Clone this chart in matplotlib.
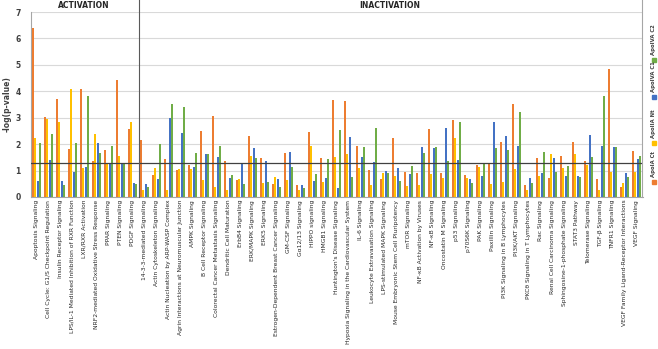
import matplotlib
matplotlib.use("Agg")
import matplotlib.pyplot as plt
from matplotlib.patches import Rectangle
from matplotlib.lines import Line2D
import numpy as np

categories = [
    "Apoptosis Signaling", "Cell Cycle: G1/S Checkpoint Regulation", "Insulin Receptor Signaling",
    "LPS/IL-1 Mediated Inhibition of RXR Function", "LXR/RXR Activation",
    "NRF2-mediated Oxidative Stress Response", "PPAR Signaling", "PTEN Signaling", "PDGF Signaling",
    "14-3-3-mediated Signaling", "Actin Cytoskeleton Signaling", "Actin Nucleation by ARP-WASP Complex",
    "Agrin Interactions at Neuromuscular Junction", "AMPK Signaling", "B Cell Receptor Signaling",
    "Colorectal Cancer Metastasis Signaling", "Dendritic Cell Maturation", "ErbB4 Signaling",
    "ERK/MAPK Signaling", "ERK5 Signaling", "Estrogen-Dependent Breast Cancer Signaling",
    "GM-CSF Signaling", "Gα12/13 Signaling", "HIPPO signaling", "HMGB1 Signaling",
    "Huntington's Disease Signaling", "Hypoxia Signaling in the Cardiovascular System",
    "IL-6 Signaling", "Leukocyte Extravasation Signaling", "LPS-stimulated MAPK Signaling",
    "Mouse Embryonic Stem Cell Pluripotency", "mTOR Signaling", "NF-κB Activation by Viruses",
    "NF-κB Signaling", "Oncostatin M Signaling", "p53 Signaling", "p70S6K Signaling", "PAK Signaling",
    "Paxillin Signaling", "PI3K Signaling in B Lymphocytes", "PI3K/AKT Signaling",
    "PKCθ Signaling in T Lymphocytes", "Rac Signaling", "Renal Cell Carcinoma Signaling",
    "Sphingosine-1-phosphate Signaling", "STAT3 Pathway", "Telomerase Signaling", "TGF-β Signaling",
    "TNFR1 Signaling", "VEGF Family Ligand-Receptor Interactions", "VEGF Signaling",
]

series_names = ["ApoIA Ct", "ApoIIA Nt", "ApoIVA C1", "ApoIVA C2"]

apoIA_ct = [6.39, 3.01, 3.72, 1.81, 4.08, 1.37, 1.78, 4.41, 2.59,
            2.14, 0.83, 1.44, 1.01, 1.20, 2.51, 3.05, 1.35, 0.63, 2.30, 1.49, 0.51, 1.66, 0.46, 2.47,
            1.47, 3.67, 3.65, 1.92, 1.01, 0.67, 2.23, 0.94, 0.92, 2.58, 0.92, 2.91, 0.84,
            1.22, 1.30, 2.10, 3.51, 0.44, 1.46, 0.71, 1.56, 2.08, 1.35, 0.67, 4.85, 0.37, 1.73]
apoIIA_nt = [2.24, 2.95, 2.82, 4.08, 1.09, 2.38, 1.27, 1.56, 2.84,
             0.28, 1.09, 0.28, 1.05, 1.06, 0.63, 0.38, 0.28, 0.67, 1.54, 0.54, 0.75, 0.66, 0.27, 1.92,
             0.58, 1.52, 1.62, 1.09, 0.44, 0.92, 0.78, 0.42, 0.46, 0.86, 0.73, 2.23, 0.71,
             1.13, 0.49, 0.57, 1.06, 0.25, 0.78, 1.63, 1.09, 1.62, 1.20, 0.28, 0.95, 0.54, 0.95]
apoIVA_c1 = [0.59, 1.39, 0.61, 0.94, 1.14, 2.03, 1.29, 1.24, 0.54,
             0.49, 0.68, 3.00, 2.44, 1.15, 1.62, 1.53, 0.71, 1.24, 1.85, 1.37, 0.67, 1.72, 0.46, 0.61,
             0.73, 0.35, 2.28, 1.53, 1.33, 0.99, 1.08, 0.86, 1.90, 1.84, 2.61, 1.39, 0.68,
             0.78, 2.85, 2.30, 1.94, 0.71, 0.89, 1.47, 0.78, 0.78, 2.35, 1.92, 1.89, 0.89, 1.43]
apoIVA_c2 = [2.05, 2.38, 0.44, 2.06, 3.81, 1.68, 1.92, 1.29, 0.49,
             0.37, 2.00, 3.52, 3.41, 1.66, 1.63, 1.94, 0.84, 0.48, 1.49, 0.56, 0.38, 1.13, 0.33, 0.87,
             1.42, 2.54, 0.76, 1.90, 2.62, 0.89, 0.61, 1.18, 1.65, 1.91, 1.35, 2.85, 0.52,
             1.29, 1.87, 1.76, 3.22, 0.52, 1.70, 0.94, 1.16, 0.76, 1.51, 3.82, 1.89, 0.76, 1.56]

colors = ["#ED7D31", "#FFC000", "#4472C4", "#70AD47"]
n_activation = 9
threshold = 1.3

W, H = 658, 349
fig = plt.figure(figsize=(W / 100, H / 100), dpi=100)
ax = fig.add_axes([30.5 / W, 1 - 197 / H, 612 / W, 185 / H])

x = np.arange(len(categories))
offsets = [-0.3, -0.1, 0.1, 0.3]
for vals, off, c in zip([apoIA_ct, apoIIA_nt, apoIVA_c1, apoIVA_c2], offsets, colors):
    ax.bar(x + off, vals, width=0.17, color=c, zorder=3, linewidth=0)

ax.set_xlim(-0.5, len(categories) - 0.5)
ax.set_ylim(0, 7)
ax.set_yticks(range(0, 8))
ax.yaxis.grid(True, color="#D9D9D9", linewidth=0.8, zorder=0)
ax.set_axisbelow(True)
ax.tick_params(axis="y", length=0, labelsize=5.5, labelcolor="#404040", pad=7)
ax.tick_params(axis="x", length=0, labelsize=4.35, labelcolor="#262626", pad=2)
for lab in ax.get_yticklabels():
    lab.set_fontweight("bold")
ax.set_xticks(x)
ax.set_xticklabels(categories, rotation=90)
for s in ["top", "right"]:
    ax.spines[s].set_visible(False)
ax.spines["left"].set_color("#A6A6A6")
ax.spines["bottom"].set_color("#A6A6A6")
ax.spines["left"].set_linewidth(0.8)
ax.spines["bottom"].set_linewidth(0.8)

ax.axhline(threshold, color="#404040", linewidth=0.9, zorder=4)
div = n_activation - 0.5
ax.plot([div, div], [0, 7.45], color="#595959", linewidth=0.8, clip_on=False, zorder=4)

# right border line of the plot area
fig.add_artist(Line2D([642 / W, 642 / W], [1 - 197 / H, 1.0], transform=fig.transFigure,
                      color="#A6A6A6", linewidth=0.8))

# y-axis title placed directly in figure pixels
fig.text(7 / W, 1 - 104 / H, "-log(p-value)", rotation=90, fontsize=5.5, fontweight="bold",
         color="#404040", ha="center", va="center")

fig.text(84 / W, 1 - 6 / H, "ACTIVATION", fontsize=5.5, fontweight="bold", ha="center", va="center", color="#262626")
fig.text(390 / W, 1 - 6 / H, "INACTIVATION", fontsize=5.5, fontweight="bold", ha="center", va="center", color="#262626")

# legend, rotated vertically on the right
leg_x = 653.5
sq_y = [182, 143, 97, 60]
for name, c, sy in zip(series_names, colors, sq_y):
    fig.patches.append(Rectangle(((leg_x - 2) / W, 1 - (sy + 2) / H), 4 / W, 4 / H,
                                 transform=fig.transFigure, color=c))
    fig.text(leg_x / W, 1 - (sy - 5) / H, name, rotation=90, fontsize=3.8, ha="center", va="bottom",
             color="#404040", fontweight="bold")

fig.savefig("out.png", dpi=100)
